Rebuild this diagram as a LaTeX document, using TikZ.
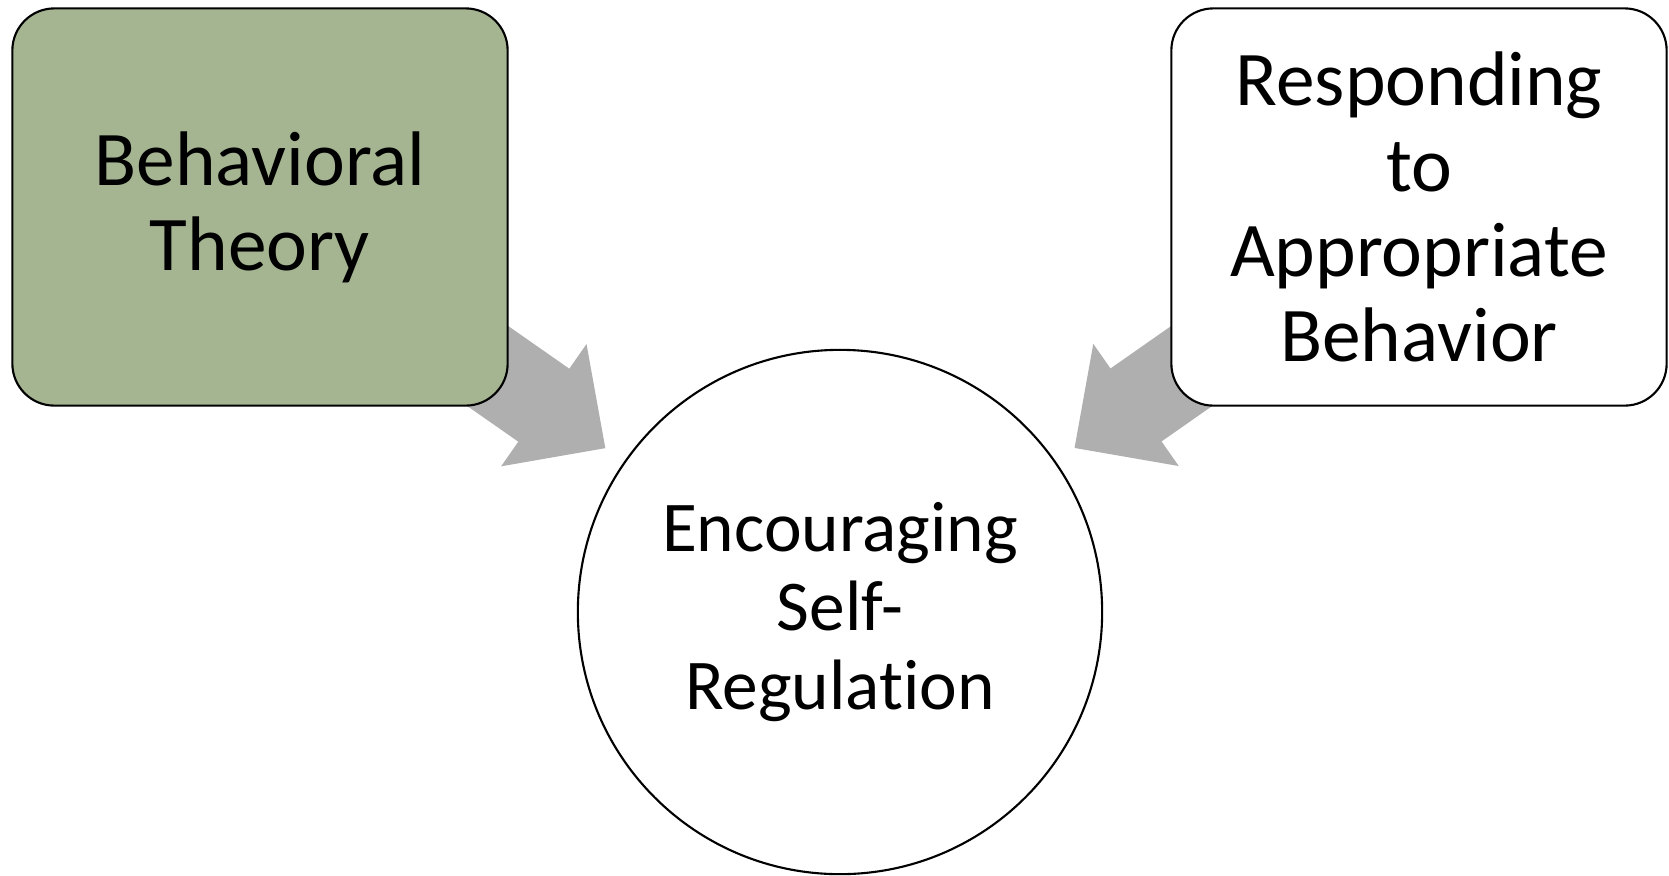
\documentclass[tikz,border=0pt]{standalone}
\usepackage{fontspec}
\setmainfont{Carlito}[Ligatures=NoCommon]
\usepackage{tikz}
\usetikzlibrary{arrows.meta,positioning,backgrounds}
\definecolor{sage}{RGB}{165,181,146}
\definecolor{arrowgray}{RGB}{175,175,175}

\begin{document}
\begin{tikzpicture}[x=0.01cm, y=-0.01cm,
  topic/.style={draw=black, line width=0.6pt, rounded corners=0.42cm,
    minimum width=4.95cm, minimum height=3.97cm, align=center,
    font=\fontsize{22}{24.2}\selectfont},
  hub/.style={draw=black, line width=0.6pt, circle, fill=white,
    minimum size=5.24cm, align=center, font=\fontsize{20.3}{22.4}\selectfont},
  fatarrow/.style={arrowgray, line width=0.89cm,
    -{Triangle[length=0.75cm, width=1.48cm, line width=1.5pt]}, shorten >=0.23cm}]
\useasboundingbox (0,0) rectangle (1669,875);
% Boxes and centre circle
\node[topic, fill=sage] (behav) at (260,207) {Behavioral\\Theory};
\node[topic, fill=white] (resp) at (1419,207) {Responding\\to\\Appropriate\\Behavior};
\node[hub] (selfreg) at (840,612) {Encouraging\\Self-\\Regulation};
% Gray arrows behind the nodes
\begin{scope}[on background layer]
  \draw[fatarrow] (behav.center) -- (selfreg);
  \draw[fatarrow] (resp.center) -- (selfreg);
\end{scope}
\end{tikzpicture}
\end{document}
